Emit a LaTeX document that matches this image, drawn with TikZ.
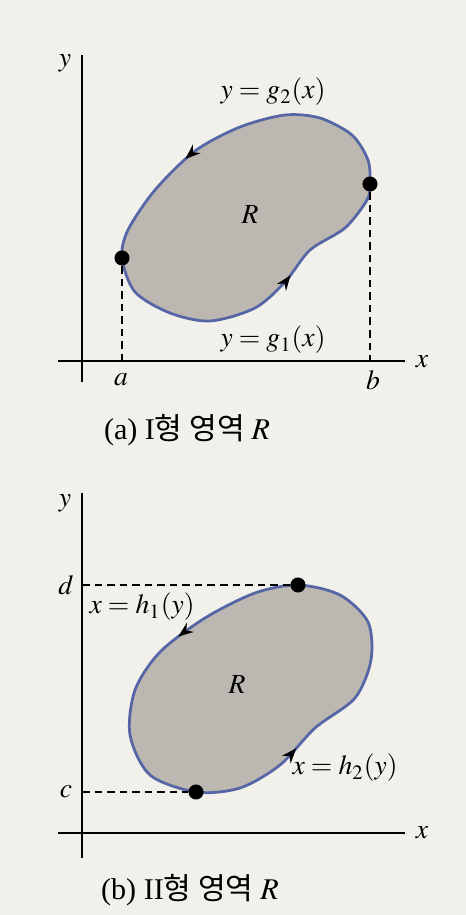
\documentclass[tikz,border=0pt]{standalone}
\usepackage{mathptmx}
\usepackage{fontspec}
\setmainfont{Liberation Serif}
\newfontfamily\krfont{Noto Sans CJK KR}
\usetikzlibrary{arrows.meta, decorations.markings}
\definecolor{paper}{HTML}{F2F0EA}
\definecolor{regiongray}{HTML}{BCB8B1}
\definecolor{edgeblue}{HTML}{5565A5}

\begin{document}
\begin{tikzpicture}[x=0.014cm, y=-0.014cm,
    lbl/.style={font=\fontsize{11}{13}\selectfont},
    axis/.style={line width=0.6pt},
    guide/.style={line width=0.6pt, dash pattern=on 3pt off 2pt},
    region/.style={draw=edgeblue, fill=regiongray, line width=1.1pt},
    dot/.style={circle, fill=black, inner sep=0pt, minimum size=6pt},
    flow/.style 2 args={decoration={markings,
        mark=at position #1 with {\arrow[black]{Stealth[length=6pt,width=4.5pt]}},
        mark=at position #2 with {\arrow[black]{Stealth[length=6pt,width=4.5pt]}}},
      postaction={decorate}}]
  \fill[paper] (0,0) rectangle (466,915);

  % (a) type I
  \draw[axis] (82,55) -- (82,382);
  \draw[axis] (58,361) -- (405,361);
  \node[lbl] (ya) at (65,63) {$y$};
  \node[lbl] (xa) at (422,362) {$x$};
  \filldraw[region, flow={0.255}{0.774}] plot[smooth cycle] coordinates {
    (122,258) (135,292) (170,313) (210,321) (255,308) (285,282) (310,250)
    (345,228) (367,200) (370,184) (368,160) (352,135) (320,118) (285,115)
    (240,127) (195,151) (155,190) (128,230)};
  \node[dot] (p) at (122,258) {};
  \node[dot] (q) at (370,184) {};
  \coordinate (a0) at (122,361);
  \coordinate (b0) at (370,361);
  \draw[guide] (p) -- (a0);
  \draw[guide] (q) -- (b0);
  \node[lbl] (la) at (121,380) {$a$};
  \node[lbl] (lb) at (373,380) {$b$};
  \node[lbl] (g2) at (273,92) {$y=g_2(x)$};
  \node[lbl] (g1) at (273,340) {$y=g_1(x)$};
  \node[lbl] (ra) at (250,215) {$R$};
  \node (capa) at (187,430) {\large (a) I\krfont 형 영역 $R$};

  % (b) type II
  \draw[axis] (82,493) -- (82,858);
  \draw[axis] (58,833) -- (405,833);
  \node[lbl] (yb) at (65,503) {$y$};
  \node[lbl] (xb) at (422,833) {$x$};
  \filldraw[region, flow={0.10}{0.635}] plot[smooth cycle] coordinates {
    (196,792) (240,788) (280,765) (315,728) (355,698) (371,660) (368,622)
    (340,595) (298,585) (255,593) (205,618) (160,652) (135,690) (130,735)
    (150,775)};
  \node[dot] (s) at (298,585) {};
  \node[dot] (t) at (196,792) {};
  \coordinate (d0) at (82,585);
  \coordinate (c0) at (82,792);
  \draw[guide] (d0) -- (s);
  \draw[guide] (c0) -- (t);
  \node[lbl] (ld) at (66,585) {$d$};
  \node[lbl] (lc) at (66,792) {$c$};
  \node[lbl] (h1) at (142,607) {$x=h_1(y)$};
  \node[lbl] (h2) at (345,768) {$x=h_2(y)$};
  \node[lbl] (rb) at (237,685) {$R$};
  \node (capb) at (190,890) {\large (b) II\krfont 형 영역 $R$};
\end{tikzpicture}
\end{document}
